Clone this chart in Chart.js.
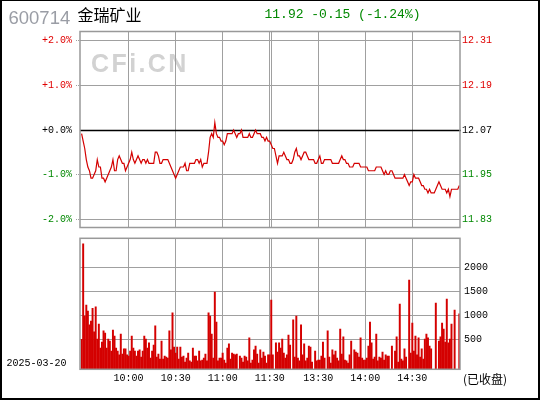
<!DOCTYPE html>
<html><head><meta charset="utf-8">
<script src="https://cdn.jsdelivr.net/npm/chart.js@4.4.1/dist/chart.umd.min.js"></script>
<style>
html,body{margin:0;padding:0;background:#fff;}
#wrap{position:relative;width:540px;height:400px;overflow:hidden;background:#fff;}
#p1{position:absolute;left:0;top:0;width:540px;height:232px;}
#p2{position:absolute;left:0;top:232px;width:540px;height:168px;}
#frame{position:absolute;left:0;top:0;width:540px;height:400px;box-sizing:border-box;border:2px solid #000;border-top-width:1px;pointer-events:none;}
</style></head>
<body>
<div id="wrap">
  <div id="p1"><canvas id="c1" width="540" height="232"></canvas></div>
  <div id="p2"><canvas id="c2" width="540" height="168"></canvas></div>
  <div id="frame"></div>
</div>
<script>
// ---------- data ----------
const stockCode = '600714';
const stockName = '金瑞矿业';
const tradeDate = '2025-03-20';
const statusText = '(已收盘)';
const watermark = 'CFi.CN';
const prevClose = 12.07;

const prices = [
12.06,12.04,12.02,11.99,11.97,11.96,11.94,11.94,11.95,11.96,
11.99,11.97,11.97,11.94,11.94,11.93,11.94,11.95,11.96,11.97,
11.99,11.96,11.96,11.99,12.00,11.99,11.98,11.98,11.96,11.97,
11.98,11.99,12.01,11.99,11.98,11.99,12.00,11.99,11.98,11.99,
11.99,11.98,11.99,11.98,11.98,11.98,11.98,12.01,12.01,12.00,
11.98,11.98,11.99,11.99,11.99,11.99,11.98,11.97,11.96,11.95,
11.94,11.95,11.96,11.97,11.97,11.97,11.98,11.96,11.96,11.98,
11.98,11.98,11.98,11.99,11.99,11.98,11.99,11.97,11.98,11.98,
11.98,12.01,12.05,12.06,12.05,12.09,12.06,12.05,12.05,12.04,
12.04,12.03,12.04,12.06,12.06,12.06,12.06,12.07,12.06,12.05,
12.06,12.06,12.07,12.05,12.05,12.05,12.05,12.06,12.05,12.05,
12.06,12.07,12.06,12.06,12.06,12.05,12.05,12.04,12.05,12.04,
12.04,
12.03,12.02,12.02,12.00,11.98,12.00,12.00,12.00,12.01,12.00,
11.99,11.99,11.98,11.98,11.99,12.01,12.02,12.00,12.00,11.99,
12.00,12.01,12.01,12.00,11.99,11.99,11.99,11.99,11.98,11.98,
11.99,12.00,11.98,11.98,11.99,11.99,11.99,11.99,11.99,11.98,
11.98,11.98,11.98,11.98,11.99,12.00,11.99,11.99,11.98,11.98,
11.97,11.97,11.97,11.98,11.98,11.98,11.98,11.97,11.97,11.97,
11.97,11.97,11.96,11.96,11.96,11.96,11.96,11.97,11.97,11.97,
11.97,11.96,11.95,11.96,11.95,11.95,11.96,11.96,11.95,11.94,
11.94,11.94,11.94,11.94,11.94,11.95,11.94,11.93,11.92,11.93,
11.93,11.95,11.94,11.94,11.94,11.93,11.92,11.92,11.91,11.91,
11.90,11.91,11.90,11.90,11.90,11.91,11.92,11.93,11.92,11.91,
11.91,11.91,11.90,11.91,11.89,11.91,11.91,11.91,11.91,11.91,
11.92
];

const volumes = [
500,2490,986,1215,1090,799,882,1146,653,1174,
507,819,319,444,674,632,319,507,465,257,
694,569,319,257,174,611,194,299,299,174,
153,257,569,319,257,153,257,278,132,257,
569,507,319,424,111,257,382,778,132,194,
90,465,90,153,132,111,674,278,1049,340,
215,340,90,340,132,153,28,111,215,49,
28,319,153,153,49,257,49,69,111,194,
49,1049,986,611,111,1486,861,49,111,111,
215,69,7,319,403,90,215,194,174,194,
null,153,111,28,153,132,49,528,7,69,
278,361,194,7,278,111,236,153,7,174,
174,
1319,174,null,424,236,424,319,507,215,111,
174,590,382,null,903,132,986,111,49,799,
174,403,49,111,361,340,28,null,257,49,
69,69,153,444,111,null,674,132,7,278,
174,257,111,49,715,194,549,69,49,7,
174,465,null,278,236,215,132,528,111,69,
69,111,361,861,424,90,132,611,49,132,
111,236,69,174,153,153,null,361,null,257,
549,28,1236,90,49,299,132,null,1736,215,
840,257,569,174,528,132,299,90,507,611,
528,361,299,null,null,1257,null,465,549,840,
715,444,1340,424,507,819,null,1111,null,null,
1028
];

const pctTicks = [-2, -1, 0, 1, 2];
const volTicks = [500, 1000, 1500, 2000];
const gridTimes  = ['10:00','10:30','11:00','11:30','13:00','13:30','14:00','14:30'];
const timeLabels = ['10:00','10:30','11:00','11:30','','13:30','14:00','14:30'];

// ---------- helpers ----------
function timeToIndex(t){
  const [h,m] = t.split(':').map(Number);
  const mins = h*60+m;
  return mins <= 690 ? mins-570 : 121 + (mins-780);
}
const X_MIN = -1.02, X_MAX = 241.43;
const PCT_MIN = -2.18, PCT_MAX = 2.2;
const VOL_MIN = -125, VOL_MAX = 2604;
const RED = '#e00000', GREEN = '#008800', GRID = '#a0a0a0', FRAME = '#999999';
const LINE_RED = '#d40000';
const MONO = '"Liberation Mono", "DejaVu Sans Mono", monospace';
const CJK = '"Noto Sans CJK SC", "Noto Sans", sans-serif';

function pctColor(v){ return Math.abs(v) < 1e-9 ? '#000' : (v > 0 ? RED : GREEN); }
function noPad(s){ s.paddingTop = 0; s.paddingBottom = 0; s.paddingLeft = 0; s.paddingRight = 0; }

const framePlugin = {
  id:'frame',
  afterDatasetsDraw(chart){
    const a = chart.chartArea, ctx = chart.ctx;
    ctx.save();
    ctx.strokeStyle = FRAME; ctx.lineWidth = 1.5; ctx.setLineDash([]);
    ctx.strokeRect(a.left, a.top, a.right-a.left, a.bottom-a.top);
    ctx.restore();
  }
};

const lastPrice = prices[prices.length-1];
const change = lastPrice - prevClose;
const changePct = change / prevClose * 100;
const quoteText = lastPrice.toFixed(2) + ' ' + (change>=0?'+':'') + change.toFixed(2) +
                  ' (' + (changePct>=0?'+':'') + changePct.toFixed(2) + '%)';

const pricePlugin = {
  id:'priceDecor',
  beforeDraw(chart){
    const ctx = chart.ctx;
    ctx.save();
    ctx.font = 'bold 25px "Liberation Sans", Arial, sans-serif';
    ctx.fillStyle = '#d2d2d2';
    ctx.textBaseline = 'alphabetic';
    try { ctx.letterSpacing = '2.4px'; } catch(e){}
    ctx.fillText(watermark, 91, 71.5);
    ctx.restore();
  },
  beforeDatasetsDraw(chart){
    const ctx = chart.ctx, a = chart.chartArea;
    const y = Math.round(chart.scales.yPrice.getPixelForValue(prevClose)) + 0.5;
    ctx.save();
    ctx.strokeStyle = '#000'; ctx.lineWidth = 1.3; ctx.setLineDash([]);
    ctx.beginPath(); ctx.moveTo(a.left, y); ctx.lineTo(a.right+1, y); ctx.stroke();
    ctx.restore();
  },
  afterDraw(chart){
    const ctx = chart.ctx;
    ctx.save();
    ctx.textBaseline = 'alphabetic';
    ctx.font = '18.5px "Liberation Sans", Arial, sans-serif';
    ctx.fillStyle = '#9a9da5';
    ctx.fillText(stockCode, 8.5, 24);
    ctx.textBaseline = 'middle';
    ctx.font = '16px ' + CJK;
    ctx.fillStyle = '#000';
    ctx.fillText(stockName, 77.5, 14.5);
    ctx.font = '13px ' + MONO;
    ctx.fillStyle = change < 0 ? GREEN : (change > 0 ? RED : '#000');
    ctx.fillText(quoteText, 264.5, 15);
    ctx.restore();
  }
};

const volPlugin = {
  id:'volDecor',
  afterDraw(chart){
    const ctx = chart.ctx;
    ctx.save();
    ctx.textBaseline = 'middle';
    ctx.fillStyle = '#000';
    ctx.font = '10px ' + MONO;
    ctx.fillText(tradeDate, 6.5, 131.5);
    ctx.font = '12px ' + CJK;
    ctx.fillText(statusText, 463, 147);
    ctx.restore();
  }
};

const xGridCommon = {
  type:'linear', min:X_MIN, max:X_MAX, offset:false,
  afterBuildTicks(s){ s.ticks = gridTimes.map(t => ({value: timeToIndex(t)})); },
  border:{display:false},
  grid:{color:GRID, lineWidth:1, borderDash:[1,1], drawTicks:false, offset:false}
};

// ---------- price chart ----------
new Chart(document.getElementById('c1'), {
  type:'line',
  data:{ datasets:[{
    data: prices.map((p,i) => ({x:i, y:p})),
    borderColor: LINE_RED, borderWidth: 1.2, pointRadius: 0, tension: 0,
    xAxisID:'x', yAxisID:'yPrice'
  }]},
  options:{
    responsive:false, animation:false, events:[],
    plugins:{legend:{display:false}, tooltip:{enabled:false}},
    layout:{padding:{top:31.5, bottom:4.5, left:0, right:0}},
    scales:{
      x: Object.assign({}, xGridCommon, {
        afterFit(s){ s.height = 0; noPad(s); },
        ticks:{display:false}
      }),
      yPct:{
        type:'linear', position:'left', min:PCT_MIN, max:PCT_MAX,
        afterBuildTicks(s){ s.ticks = pctTicks.map(v => ({value:v})); },
        afterFit(s){ s.width = 80; noPad(s); },
        border:{display:false},
        grid:{
          color: c => (c.tick && Math.abs(c.tick.value) < 1e-9) ? 'rgba(0,0,0,0)' : GRID,
          tickColor: c => (c.tick && Math.abs(c.tick.value) < 1e-9) ? 'rgba(0,0,0,0)' : GRID,
          borderDash:[1,1], tickBorderDash:[1,1], drawTicks:true, tickLength:4
        },
        ticks:{
          padding:4, autoSkip:false,
          font:{family:MONO, size:10},
          color: c => pctColor(c.tick.value),
          callback: v => (v >= 0 ? '+' : '') + Number(v).toFixed(1) + '%'
        }
      },
      yPrice:{
        type:'linear', position:'right',
        min: prevClose*(1+PCT_MIN/100), max: prevClose*(1+PCT_MAX/100),
        afterBuildTicks(s){ s.ticks = pctTicks.map(p => ({value: prevClose*(1+p/100)})); },
        afterFit(s){ s.width = 80; noPad(s); },
        border:{display:false},
        grid:{display:false, drawTicks:false},
        ticks:{
          padding:2, autoSkip:false,
          font:{family:MONO, size:10},
          color: c => pctColor(Math.round((c.tick.value/prevClose-1)*10000)/100),
          callback: v => Number(v).toFixed(2)
        }
      }
    }
  },
  plugins:[pricePlugin, framePlugin]
});

// ---------- volume chart ----------
new Chart(document.getElementById('c2'), {
  type:'bar',
  data:{ datasets:[{
    data: volumes.map((v,i) => ({x:i, y:v})),
    backgroundColor: LINE_RED, borderWidth:0, barThickness:1.3, base: VOL_MIN,
    xAxisID:'x', yAxisID:'yVol'
  }]},
  options:{
    responsive:false, animation:false, events:[],
    plugins:{legend:{display:false}, tooltip:{enabled:false}},
    layout:{padding:{top:6.3, bottom:0, left:80, right:0}},
    scales:{
      x: Object.assign({}, xGridCommon, {
        afterFit(s){ s.height = 30.7; noPad(s); },
        ticks:{
          display:true, autoSkip:false, maxRotation:0, padding:3,
          color:'#000', font:{family:MONO, size:10},
          callback: (v, idx) => timeLabels[idx]
        }
      }),
      yVol:{
        type:'linear', position:'right', min:VOL_MIN, max:VOL_MAX,
        afterBuildTicks(s){ s.ticks = volTicks.map(v => ({value:v})); },
        afterFit(s){ s.width = 80; noPad(s); },
        border:{display:false},
        grid:{color:GRID, borderDash:[1,1], drawTicks:false},
        ticks:{
          padding:4, autoSkip:false, color:'#000',
          font:{family:MONO, size:10},
          callback: v => String(v)
        }
      }
    }
  },
  plugins:[volPlugin, framePlugin]
});
</script>
</body></html>
